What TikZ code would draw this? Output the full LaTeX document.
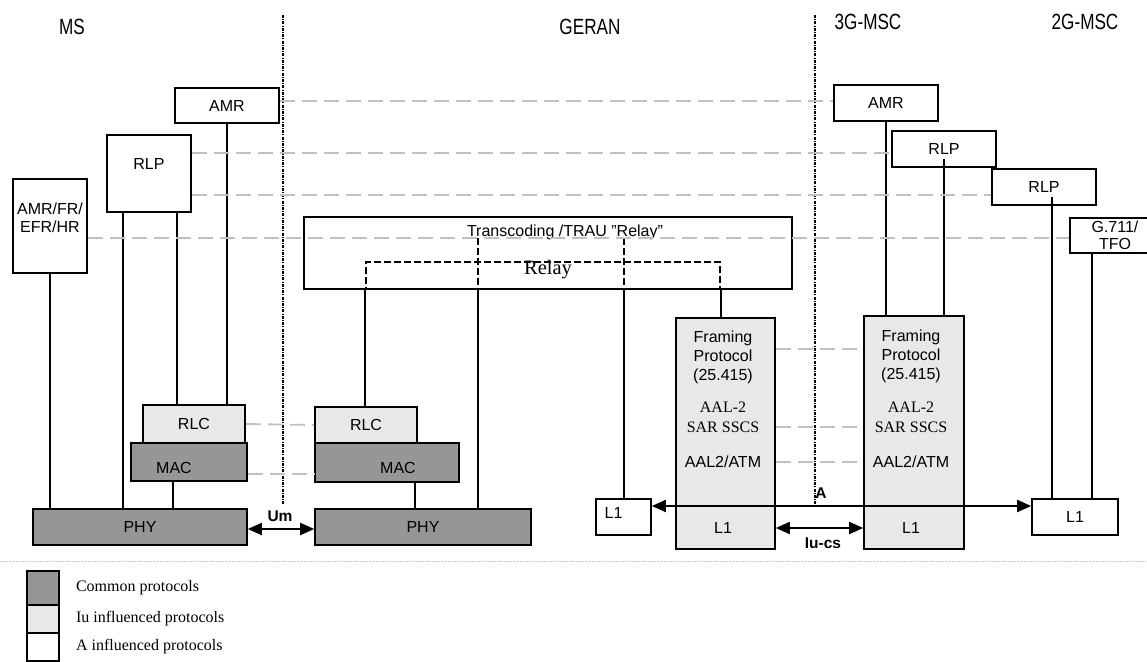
\documentclass[tikz,border=0pt]{standalone}
\usepackage{fontspec}
\setmainfont{Liberation Serif}
\setsansfont{Liberation Sans}
\newfontfamily\titlefont[FakeStretch=0.78]{Liberation Sans}
\usetikzlibrary{arrows.meta,positioning}
\definecolor{cdark}{RGB}{150,150,150}
\definecolor{clight}{RGB}{232,232,232}
\definecolor{cpeer}{RGB}{192,192,192}
\tikzset{
  sz/.style 2 args={minimum width=#1pt,minimum height=#2pt},
  tl/.style={inner sep=0pt,align=center,font=\sffamily\fontsize{16}{18}\selectfont},
  box/.style={draw,line width=1.6pt,inner sep=0pt,align=center,font=\sffamily\fontsize{16}{18}\selectfont},
  common/.style={box,fill=cdark},
  iu/.style={box,fill=clight},
  serif/.style={inner sep=0pt,align=center,font=\rmfamily\fontsize{16}{20}\selectfont},
  title/.style={inner sep=0pt,font=\titlefont\fontsize{22}{24}\selectfont},
  lbl/.style={inner sep=0pt,font=\sffamily\bfseries\fontsize{15.5}{18}\selectfont},
  peer/.style={draw=cpeer,line width=1.8pt,dash pattern=on 15pt off 7pt},
  lnk/.style={line width=1.6pt},
  relayline/.style={line width=1.8pt,dash pattern=on 7pt off 3pt},
  iface/.style={line width=2pt,dash pattern=on 3pt off 1.2pt on 1pt off 1.2pt},
  both/.style={line width=1.8pt,{Triangle[length=14pt,width=12pt]}-{Triangle[length=14pt,width=12pt]}}
}
\begin{document}
\begin{tikzpicture}[x=1pt,y=-1pt]
\useasboundingbox (0,0) rectangle (1147,661);
\node[title] (tms) at (72,27) {MS};
\node[title] (tgeran) at (590,27) {GERAN};
\node[title] (t3g) at (868,22) {3G-MSC};
\node[title] (t2g) at (1085,22) {2G-MSC};
\coordinate (umtop) at (283,15);
\coordinate (umbot) at (283,505);
\coordinate (atop) at (815,15);
\coordinate (abot) at (815,506);
\draw[iface] (umtop) -- (umbot);
\draw[iface] (atop) -- (abot);

\node[box,sz={104}{35}] (amrms) at (227,105.5) {AMR};
\node[box,sz={84}{77},label={[tl,yshift=10pt]center:RLP}] (rlpms) at (149,173.5) {};
\node[box,sz={74}{94},label={[tl,yshift=8pt]center:AMR/FR/\\EFR/HR}] (codec) at (50,226) {};
\node[iu,sz={102}{38}] (rlcms) at (194,424) {RLC};
\node[common,sz={116}{38},label={[tl,xshift=-15pt,yshift=-6pt]center:MAC}] (macms) at (189,462) {};
\node[common,sz={214}{36}] (phyms) at (140,527) {PHY};

\node[box,sz={488}{72}] (trau) at (548,253) {};
\node[tl] (trautxt) at (565,232) {Transcoding /TRAU "Relay”};
\node[draw,relayline,inner sep=0pt,sz={354}{27}] (relay) at (543,275.5) {};
\node[serif,font=\rmfamily\fontsize{20.5}{22}\selectfont] (relaytxt) at (548,270) {Relay};
\coordinate (ra) at (478,238);
\coordinate (rb) at (624,238);
\draw[relayline] (ra) -- (ra |- trau.south);
\draw[relayline] (rb) -- (rb |- trau.south);
\node[iu,sz={102}{36}] (rlcg) at (366,425) {RLC};
\node[common,sz={144}{39},label={[tl,xshift=11pt,yshift=-5pt]center:MAC}] (macg) at (387,462.5) {};
\node[common,sz={216}{36}] (phyg) at (423,527) {PHY};
\node[box,sz={55}{36},label={[tl,xshift=-10pt,yshift=4pt]center:L1}] (l1a) at (623.5,517) {};

\node[iu,sz={99}{231}] (fpg) at (725.5,433.5) {};
\node[iu,sz={100}{233}] (fp3g) at (914,432.5) {};
\node[tl,font=\sffamily\fontsize{16}{19}\selectfont] (fpgtxt) at (723,357) {Framing\\Protocol\\(25.415)};
\node[tl,font=\sffamily\fontsize{16}{19}\selectfont] (fp3gtxt) at (911,356) {Framing\\Protocol\\(25.415)};
\node[serif] (sarg) at (723,417) {AAL-2\\SAR SSCS};
\node[serif] (sar3g) at (911,417) {AAL-2\\SAR SSCS};
\node[tl] (atmg) at (723,462) {AAL2/ATM};
\node[tl] (atm3g) at (911,462) {AAL2/ATM};
\node[tl] (l1g) at (723,528) {L1};
\node[tl] (l13g) at (911,528) {L1};
\draw[lnk] (fpg.west |- 0,506) -- (fpg.east |- 0,506);
\draw[lnk] (fp3g.west |- 0,506) -- (fp3g.east |- 0,506);

\node[box,sz={104}{36}] (amr3g) at (886,103) {AMR};
\node[box,sz={104}{36}] (rlpa) at (944,149) {RLP};
\node[box,sz={104}{36}] (rlpb) at (1044,187) {RLP};
\node[box,sz={90}{35},font=\sffamily\fontsize{16}{17}\selectfont] (g711) at (1115,235.5) {G.711/\\TFO};
\node[box,sz={86}{36}] (l1b) at (1075,517) {L1};

\draw[lnk] (codec.south) -- (codec.south |- phyms.north);
\draw[lnk] (rlpms.south -| 123,0) -- (phyms.north -| 123,0);
\draw[lnk] (rlpms.south -| 177,0) -- (rlcms.north -| 177,0);
\draw[lnk] (amrms.south) -- (rlcms.north -| amrms.south);
\draw[lnk] (macms.south -| 173,0) -- (phyms.north -| 173,0);
\draw[lnk] (trau.south -| relay.west) -- (rlcg.north -| relay.west);
\draw[lnk] (trau.south -| ra) -- (phyg.north -| ra);
\draw[lnk] (trau.south -| rb) -- (l1a.north -| rb);
\draw[lnk] (trau.south -| relay.east) -- (fpg.north -| relay.east);
\draw[lnk] (macg.south -| 415,0) -- (phyg.north -| 415,0);
\draw[lnk] (amr3g.south) -- (fp3g.north -| amr3g.south);
\draw[lnk] ([yshift=-10pt]rlpa.center) -- (fp3g.north -| rlpa.center);
\draw[lnk] ([yshift=-10pt]rlpb.center -| 1052,0) -- (l1b.north -| 1052,0);
\draw[lnk] (g711.south -| 1092,0) -- (l1b.north -| 1092,0);

\draw[peer] (amrms.east |- 0,101) -- (amr3g.west |- 0,101);
\draw[peer] (rlpms.east |- 0,153) -- (rlpa.west |- 0,153);
\draw[peer] (rlpms.east |- 0,195) -- (rlpb.west |- 0,195);
\draw[peer] (codec.east |- 0,238) -- (g711.west |- 0,238);
\draw[peer] (rlcms.east) -- (rlcg.west);
\draw[peer] (macms.east |- 0,474) -- (macg.west |- 0,474);
\draw[peer] (fpg.east |- 0,349) -- (fp3g.west |- 0,349);
\draw[peer] (fpg.east |- 0,427) -- (fp3g.west |- 0,427);
\draw[peer] (fpg.east |- 0,462) -- (fp3g.west |- 0,462);

\draw[both] (phyms.east |- 0,529) -- (phyg.west |- 0,529);
\draw[both] (l1a.east |- 0,506) -- (l1b.west |- 0,506);
\draw[both] (fpg.east |- 0,528) -- (fp3g.west |- 0,528);
\node[lbl] (um) at (280,516) {Um};
\node[lbl] (alab) at (821,493) {A};
\node[lbl] (iucs) at (823,543) {Iu-cs};

\draw[cpeer,densely dotted,line width=0.8pt] (0,561) -- (1147,561);
\node[common,sz={32}{34}] (lgc) at (43,588) {};
\node[iu,sz={32}{28}] (lgi) at (43,619) {};
\node[box,sz={32}{28}] (lga) at (43,647) {};
\node[serif,right=16pt of lgc] (lgctxt) {Common protocols};
\node[serif,right=16pt of lgi] (lgitxt) {Iu influenced protocols};
\node[serif,right=16pt of lga] (lgatxt) {A influenced protocols};
\end{tikzpicture}
\end{document}
